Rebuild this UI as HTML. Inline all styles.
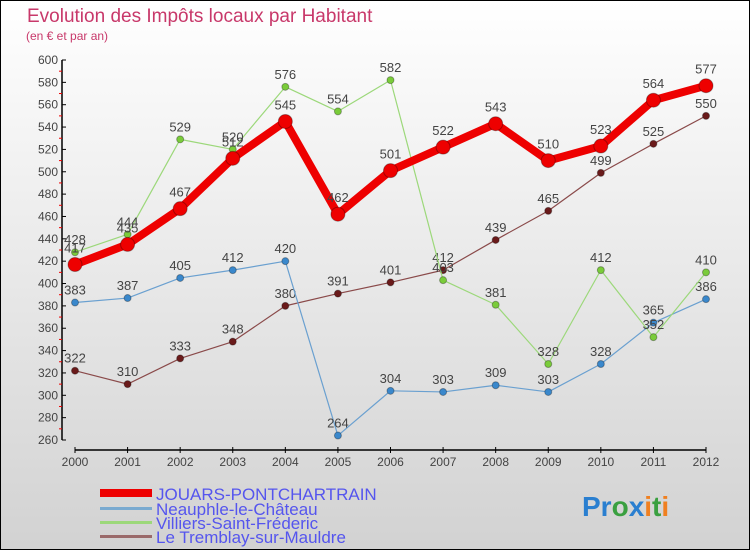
<!DOCTYPE html>
<html><head><meta charset="utf-8"><style>
body{margin:0}
#c{width:750px;height:550px;position:relative;overflow:hidden;background:linear-gradient(#ffffff,#d2d2d2);box-sizing:border-box;border:1px solid #000;font-family:"Liberation Sans",sans-serif}
</style></head><body>
<div id="c">
<svg id="s" width="750" height="550" style="position:absolute;left:-1px;top:-1px">
<text x="27" y="22" font-size="19" fill="#c8386a">Evolution des Impôts locaux par Habitant</text>
<text x="26" y="40" font-size="12" fill="#c8386a">(en € et par an)</text>
<g id="ax"></g><g id="pl"></g>
<g font-size="17" fill="#5555ee">
<rect x="100" y="489" width="52" height="8" fill="#e00"/>
<text x="156" y="500">JOUARS-PONTCHARTRAIN</text>
<rect x="100" y="507" width="52" height="3" fill="#7aaad0"/>
<text x="156" y="515">Neauphle-le-Château</text>
<rect x="100" y="521" width="52" height="3" fill="#9cd87a"/>
<text x="156" y="529">Villiers-Saint-Fréderic</text>
<rect x="100" y="535" width="52" height="3" fill="#9a6a6a"/>
<text x="156" y="543">Le Tremblay-sur-Mauldre</text>
</g>
<text x="582" y="516" font-size="28" font-weight="bold"><tspan fill="#2a7fd0">Pr</tspan><tspan fill="#3aa040">o</tspan><tspan fill="#2a7fd0">x</tspan><tspan fill="#f08020">i</tspan><tspan fill="#3aa040">t</tspan><tspan fill="#f08020">i</tspan></text>
</svg></div>
<script>
const years=[2000,2001,2002,2003,2004,2005,2006,2007,2008,2009,2010,2011,2012];
const jouars=[417,435,467,512,545,462,501,522,543,510,523,564,577];
const neauphle=[383,387,405,412,420,264,304,303,309,303,328,365,386];
const villiers=[428,444,529,520,576,554,582,403,381,328,412,352,410];
const tremblay=[322,310,333,348,380,391,401,412,439,465,499,525,550];
const yTicks=[260,280,300,320,340,360,380,400,420,440,460,480,500,520,540,560,580,600];
const NS="http://www.w3.org/2000/svg";
const X=i=>75+i*(706-75)/12, Y=v=>440-(v-260)*(380/340);
function mk(p,t,a){const e=document.createElementNS(NS,t);for(const k in a)e.setAttribute(k,a[k]);p.appendChild(e);return e;}
const ax=document.getElementById('ax'),pl=document.getElementById('pl');
let e=mk(ax,'line',{x1:62,y1:60,x2:62,y2:440,stroke:'#000','stroke-width':1.5});

e=mk(ax,'line',{x1:75,y1:450,x2:706,y2:450,stroke:'#000','stroke-width':1.5});

yTicks.forEach((v,i)=>{
 mk(ax,'line',{x1:62,y1:Y(v),x2:66,y2:Y(v),stroke:'#000'});
 if(i<yTicks.length-1)mk(ax,'line',{x1:59,y1:Y(v+10),x2:62,y2:Y(v+10),stroke:'#e00'});
 const t=mk(ax,'text',{x:58,y:Y(v)+4,'text-anchor':'end','font-size':12,fill:'#444'});t.textContent=v;
 
});
years.forEach((y,i)=>{
 mk(ax,'line',{x1:X(i),y1:447,x2:X(i),y2:453,stroke:'#000'});
 const t=mk(ax,'text',{x:X(i),y:466,'text-anchor':'middle','font-size':12,fill:'#444'});t.textContent=y;
 
});
function series(d,name,col,fill,w,r){
 const g=mk(pl,'g',{});
 
 const p=mk(g,'polyline',{points:d.map((v,i)=>X(i)+','+Y(v)).join(' '),fill:'none',stroke:col,'stroke-width':w,'stroke-linejoin':'round'});
 
 d.forEach((v,i)=>{
  const c=mk(g,'circle',{cx:X(i),cy:Y(v),r:r,fill:fill,stroke:'rgba(0,0,0,0.3)','stroke-width':1});
  
  const t=mk(g,'text',{x:X(i),y:Y(v)-8-(r>5?4:0),'text-anchor':'middle','font-size':13,fill:'#444'});t.textContent=v;
  
 });
}
series(tremblay,'tremblay','#8a4a4a','#6a1a1a',1.2,3.5);
series(neauphle,'neauphle','#6aa0d0','#3a88cc',1.2,3.5);
series(villiers,'villiers','#9cd87a','#7acc3a',1.2,3.5);
series(jouars,'jouars','#ee0000','#ee0000',8,7);
</script>
</body></html>
